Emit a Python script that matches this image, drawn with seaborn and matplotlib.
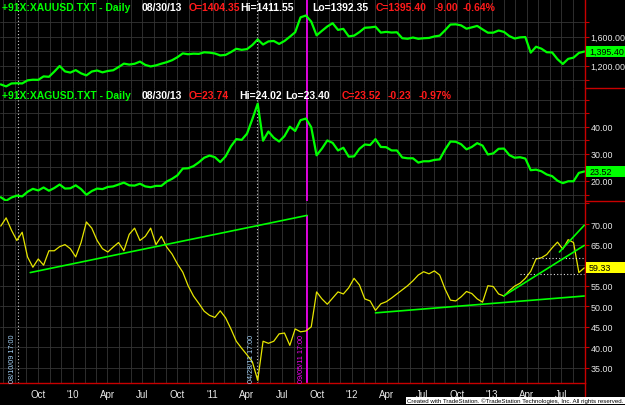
import pandas as pd
import matplotlib
matplotlib.use('Agg')
import matplotlib.pyplot as plt
import matplotlib.dates as mdates
from matplotlib.lines import Line2D
from matplotlib.patches import Rectangle
from matplotlib.ticker import FuncFormatter, FixedLocator
import seaborn as sns

# Biweekly closes (Jun 2009 - Aug 2013)
dates = pd.date_range('2009-06-26', '2013-08-30', freq='14D')

gold = [940, 912, 953, 956, 953, 996, 1005, 1003, 1051, 1045,
        1117, 1195, 1120, 1104, 1138, 1093, 1065, 1118, 1133, 1107,
        1126, 1136, 1180, 1228, 1215, 1226, 1256, 1210, 1189, 1204,
        1227, 1248, 1275, 1317, 1370, 1358, 1366, 1363, 1385, 1380,
        1369, 1342, 1349, 1388, 1434, 1419, 1429, 1486, 1563, 1493,
        1536, 1542, 1501, 1542, 1601, 1663, 1870, 1895, 1811, 1620,
        1683, 1743, 1788, 1696, 1710, 1606, 1616, 1665, 1725, 1730,
        1740, 1658, 1668, 1659, 1663, 1580, 1572, 1590, 1572, 1580,
        1584, 1605, 1616, 1690, 1770, 1773, 1758, 1712, 1731, 1751,
        1703, 1657, 1657, 1687, 1668, 1610, 1576, 1592, 1596, 1380,
        1462, 1435, 1386, 1383, 1290, 1223, 1294, 1311, 1376, 1395.40]

silver = [14.0, 12.7, 13.9, 14.6, 14.3, 16.0, 17.1, 16.5, 17.6, 16.4,
          17.4, 18.7, 17.2, 17.3, 18.4, 17.0, 14.9, 16.3, 17.2, 17.0,
          17.8, 18.0, 18.7, 19.4, 18.4, 18.3, 19.0, 18.0, 17.7, 18.2,
          18.2, 19.8, 20.8, 22.1, 24.6, 24.7, 25.5, 26.9, 28.6, 29.4,
          28.8, 27.0, 29.1, 32.8, 35.5, 35.2, 37.5, 42.9, 48.6, 34.9,
          38.3, 36.0, 34.6, 36.6, 40.1, 38.5, 42.5, 43.1, 39.9, 29.5,
          32.0, 35.0, 34.1, 31.3, 32.3, 29.0, 29.1, 31.9, 33.5, 33.3,
          35.5, 32.6, 32.5, 31.3, 31.3, 28.7, 28.4, 28.4, 26.8, 27.3,
          27.3, 27.8, 28.0, 31.6, 34.6, 34.5, 33.6, 31.7, 32.6, 34.0,
          33.1, 29.8, 30.2, 31.9, 32.0, 29.6, 28.6, 28.8, 28.3, 24.0,
          24.2, 23.6, 22.4, 21.8, 20.1, 19.2, 19.9, 19.9, 23.0, 23.52]

ratio = [69.5, 71.5, 68.5, 66.0, 68.0, 62.0, 59.5, 61.5, 60.0, 63.5,
         63.5, 64.5, 65.0, 64.0, 62.0, 65.5, 70.5, 69.0, 66.0, 64.0,
         63.2, 64.4, 65.5, 63.5, 67.5, 69.0, 66.0, 67.0, 69.0, 65.0,
         67.0, 64.4, 62.7, 60.3, 58.3, 55.0, 52.5, 50.7, 48.8, 47.8,
         47.3, 48.9, 47.2, 44.5, 41.5, 39.8, 38.2, 36.5, 32.0, 41.5,
         41.0, 41.5, 43.3, 43.5, 40.5, 44.5, 43.8, 44.0, 45.0, 53.5,
         51.8, 50.5, 52.0, 53.5, 53.0, 54.5, 56.8, 55.2, 51.8, 51.3,
         49.0, 50.6, 51.1, 52.0, 53.0, 54.0, 55.0, 56.2, 57.6, 58.4,
         57.9, 58.6, 57.6, 54.2, 51.5, 51.3, 52.3, 53.6, 53.1, 51.8,
         51.0, 55.0, 54.8, 53.0, 52.5, 53.8, 54.9, 55.6, 56.8, 58.5,
         61.5, 61.8, 62.6, 64.2, 65.6, 63.9, 66.2, 65.5, 58.2, 59.33]

# last bar header values
gold_ohlc = [1404.35, 1411.55, 1392.35, 1395.40]
gold_chg = [-9.00, -0.64]
silver_ohlc = [23.74, 24.02, 23.40, 23.52]
silver_chg = [-0.23, -0.97]

# drawn trendlines on the ratio pane
trend_start = ['2009-09-11', '2012-03-02', '2013-01-31', '2013-06-26']
trend_start_val = [58.2, 48.4, 52.5, 63.2]
trend_end = ['2011-09-05', '2013-08-30', '2013-08-30', '2013-08-30']
trend_end_val = [72.1, 52.5, 64.8, 69.7]

# dotted horizontal levels
level_start = ['2013-04-16', '2013-03-15']
level_val = [61.7, 57.9]

# time lines
tl_dates = ['2009-08-10', '2011-04-28', '2011-09-05']
tl_labels = ['08/10/09 17:00', '04/28/11 17:00', '09/05/11 17:00']

df = pd.DataFrame({'date': dates, 'gold': gold, 'silver': silver, 'ratio': ratio})

sns.set_theme(style='dark')
plt.rcParams['font.family'] = ['Liberation Sans', 'DejaVu Sans']

W, H = 625, 406
GREEN = '#00ff00'
RED = '#ff1a1a'
AXRED = '#c80000'
YEL = '#e6e600'
XMIN, XMAX = pd.Timestamp('2009-06-24'), pd.Timestamp('2013-09-01')

fig = plt.figure(figsize=(W / 100, H / 100), dpi=100, facecolor='black')


def pane(top, bottom):
    return [0, 1 - bottom / H, 585 / W, (bottom - top) / H]


ax1 = fig.add_axes(pane(0, 89))
ax2 = fig.add_axes(pane(89, 202), sharex=ax1)
ax3 = fig.add_axes(pane(202, 384), sharex=ax1)

sns.lineplot(data=df, x='date', y='gold', ax=ax1, color=GREEN, lw=1.6)
sns.lineplot(data=df, x='date', y='silver', ax=ax2, color=GREEN, lw=1.6)
sns.lineplot(data=df, x='date', y='ratio', ax=ax3, color=YEL, lw=0.9)

ax1.set_xlim(XMIN, XMAX)
ax1.set_ylim(890, 2124)
ax2.set_ylim(12.6, 54.4)
ax3.set_ylim(31.35, 75.6)

grid_ticks = {ax1: [1000, 1200, 1400, 1600, 1800],
              ax2: [15, 20, 25, 30, 35, 40, 45, 50],
              ax3: [35, 40, 45, 50, 55, 60, 65, 70, 75]}
shown = {ax1: [1200, 1600], ax2: [20, 30, 40], ax3: [35, 40, 45, 50, 55, 60, 65, 70]}

for ax in (ax1, ax2, ax3):
    ax.set_facecolor('black')
    ax.set_xlabel('')
    ax.set_ylabel('')
    for s in ('top', 'left', 'bottom'):
        ax.spines[s].set_visible(False)
    ax.spines['right'].set_color(AXRED)
    ax.spines['right'].set_linewidth(1)
    ax.yaxis.tick_right()
    ax.yaxis.set_major_locator(FixedLocator(grid_ticks[ax]))
    labels = shown[ax]
    ax.yaxis.set_major_formatter(FuncFormatter(
        lambda v, p, labels=labels: f'{v:,.2f}' if round(v, 2) in labels else ''))
    ax.tick_params(axis='y', colors=AXRED, labelcolor='#e8e8e8', length=3,
                   width=0.8, labelsize=6.4, pad=1)
    ax.grid(True, color='#353535', lw=0.6)
    ax.set_axisbelow(True)


def month_label(x, pos):
    d = mdates.num2date(x).replace(tzinfo=None)
    if d < XMIN + pd.Timedelta(days=30):
        return ''
    if d.month == 1:
        return "'" + d.strftime('%y')
    if d.month in (4, 7, 10):
        return d.strftime('%b')
    return ''


ax3.xaxis.set_major_locator(mdates.MonthLocator())
ax3.xaxis.set_major_formatter(FuncFormatter(month_label))
ax3.spines['bottom'].set_visible(True)
ax3.spines['bottom'].set_color(AXRED)
ax3.spines['bottom'].set_linewidth(1)
ax3.tick_params(axis='x', colors=AXRED, labelcolor='#e8e8e8', length=3,
                width=0.8, labelsize=7, pad=1)
for ax in (ax1, ax2):
    ax.tick_params(axis='x', length=0, labelbottom=False)

# time lines through all panes
for d, lab in zip(tl_dates, tl_labels):
    d = pd.Timestamp(d)
    magenta = lab.startswith('09/05')
    for ax in (ax1, ax2, ax3):
        if magenta:
            top = trend_end_val[0] if ax is ax3 else ax.get_ylim()[1]
            ax.vlines(d, ax.get_ylim()[0], top, color='#ff00ff', lw=1.2, zorder=1)
        else:
            ax.axvline(d, color='#d0d0d0', lw=0.8, ls=(0, (1, 2)), zorder=1)
    ax3.annotate(lab, xy=(d, 0), xycoords=('data', 'axes fraction'),
                 xytext=(-1.5, 1), textcoords='offset points', rotation=90,
                 ha='right', va='bottom', fontsize=5.2,
                 color='#ff00ff' if magenta else '#a8d8ff')

# trendlines
for s, sv, e, ev in zip(trend_start, trend_start_val, trend_end, trend_end_val):
    ax3.plot([pd.Timestamp(s), pd.Timestamp(e)], [sv, ev], color=GREEN, lw=1.2, zorder=3)

for s, v in zip(level_start, level_val):
    ax3.hlines(v, pd.Timestamp(s), pd.Timestamp(trend_end[1]), color='#e0e0e0',
               lw=0.8, ls=(0, (1, 2)), zorder=2)


def value_box(ax, val, text, face):
    lo, hi = ax.get_ylim()
    dy = 5.5 * (hi - lo) / ax.bbox.height
    tr = ax.get_yaxis_transform()
    ax.add_patch(Rectangle((1.002, val - dy), 40 / 585, 2 * dy, transform=tr,
                           facecolor=face, edgecolor='none', clip_on=False, zorder=5))
    ax.text(1.007, val, text, transform=tr, ha='left', va='center',
            color='black', fontsize=6.4, clip_on=False, zorder=6)


value_box(ax1, gold[-1], f'{gold[-1]:,.2f}', GREEN)
value_box(ax2, silver[-1], f'{silver[-1]:,.2f}', GREEN)
value_box(ax3, ratio[-1], f'{ratio[-1]:,.2f}', '#ffff00')

# pane separators on the price scale
for y in (89, 202):
    fig.add_artist(Line2D([585 / W, 1], [1 - y / H] * 2, color=AXRED, lw=1,
                          transform=fig.transFigure))
fig.add_artist(Line2D([585 / W] * 2, [1 - 384 / H, 1 - 397 / H], color=AXRED, lw=1,
                      transform=fig.transFigure))


def header(parts, y_px):
    for txt, col, x_px in parts:
        fig.text(x_px / W, 1 - y_px / H, txt, color=col, fontsize=7.5,
                 fontweight='bold', va='center', ha='left')


header([('+91X:XAUUSD.TXT - Daily', GREEN, 2), ('08/30/13', 'white', 142),
        (f'O={gold_ohlc[0]:.2f}', RED, 189), (f'Hi={gold_ohlc[1]:.2f}', 'white', 240),
        (f'Lo={gold_ohlc[2]:.2f}', 'white', 312), (f'C={gold_ohlc[3]:.2f}', RED, 376),
        (f'{gold_chg[0]:.2f}', RED, 435), (f'{gold_chg[1]:.2f}%', RED, 463)], 8)
header([('+91X:XAGUSD.TXT - Daily', GREEN, 2), ('08/30/13', 'white', 142),
        (f'O={silver_ohlc[0]:.2f}', RED, 189), (f'Hi={silver_ohlc[1]:.2f}', 'white', 239),
        (f'Lo={silver_ohlc[2]:.2f}', 'white', 285), (f'C={silver_ohlc[3]:.2f}', RED, 342),
        (f'{silver_chg[0]:.2f}', RED, 388), (f'{silver_chg[1]:.2f}%', RED, 419)], 96)

fig.text(0.998, 0.004,
         'Created with TradeStation. \u00a9TradeStation Technologies, Inc. All rights reserved.',
         ha='right', va='bottom', fontsize=4.4, color='black',
         bbox=dict(facecolor='white', edgecolor='none', pad=0.8))

fig.savefig('out.png', dpi=100, facecolor='black')
